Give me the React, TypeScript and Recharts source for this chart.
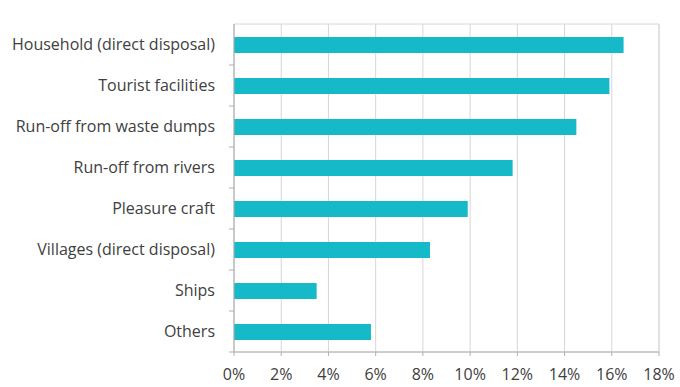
import { BarChart, Bar, XAxis, YAxis, CartesianGrid, ReferenceArea } from "recharts";

const categories = [
  "Household (direct disposal)",
  "Tourist facilities",
  "Run-off from waste dumps",
  "Run-off from rivers",
  "Pleasure craft",
  "Villages (direct disposal)",
  "Ships",
  "Others",
];
const shares = [16.5, 15.9, 14.5, 11.8, 9.9, 8.3, 3.5, 5.8];
const xTicks = [0, 2, 4, 6, 8, 10, 12, 14, 16, 18];

const data = categories.map((name, i) => ({ name, share: shares[i] }));

const W = 680;
const H = 387;
const margin = { top: 24, right: 21, bottom: 0, left: 0 };
const xAxisHeight = 35;
const band = (H - margin.top - margin.bottom - xAxisHeight) / categories.length;

const textColor = "#404040";
const gridColor = "#d6d6d9";
const font = "'Open Sans', sans-serif";

function CategoryTick(props: any) {
  const { x, y, payload } = props;
  return (
    <g>
      <line x1={x - 5} x2={x} y1={y + band / 2} y2={y + band / 2} stroke="#b0b0b0" />
      <text x={x - 19} y={y} dy="0.35em" textAnchor="end" fill={textColor} fontSize={16} fontFamily={font}>
        {payload.value}
      </text>
    </g>
  );
}

export default function App() {
  return (
    <div style={{ position: "absolute", left: 0, top: 0, background: "#fff" }}>
      <BarChart width={W} height={H} data={data} layout="vertical" margin={margin}>
        <CartesianGrid horizontal={false} stroke={gridColor} />
        <ReferenceArea x1={0} x2={18} stroke={gridColor} fill="none" fillOpacity={0} />
        <XAxis
          type="number"
          domain={[0, 18]}
          ticks={xTicks}
          tickFormatter={(v) => `${v}%`}
          height={xAxisHeight}
          stroke="#b0b0b0"
          tickSize={4}
          tickMargin={13}
          tick={{ fill: textColor, fontSize: 16, fontFamily: font }}
        />
        <YAxis
          type="category"
          dataKey="name"
          width={234}
          stroke="#b0b0b0"
          tickLine={false}
          tickSize={0}
          tickMargin={0}
          tick={<CategoryTick />}
          interval={0}
        />
        <Bar dataKey="share" fill="#15B9C8" barSize={16} isAnimationActive={false} />
      </BarChart>
    </div>
  );
}
